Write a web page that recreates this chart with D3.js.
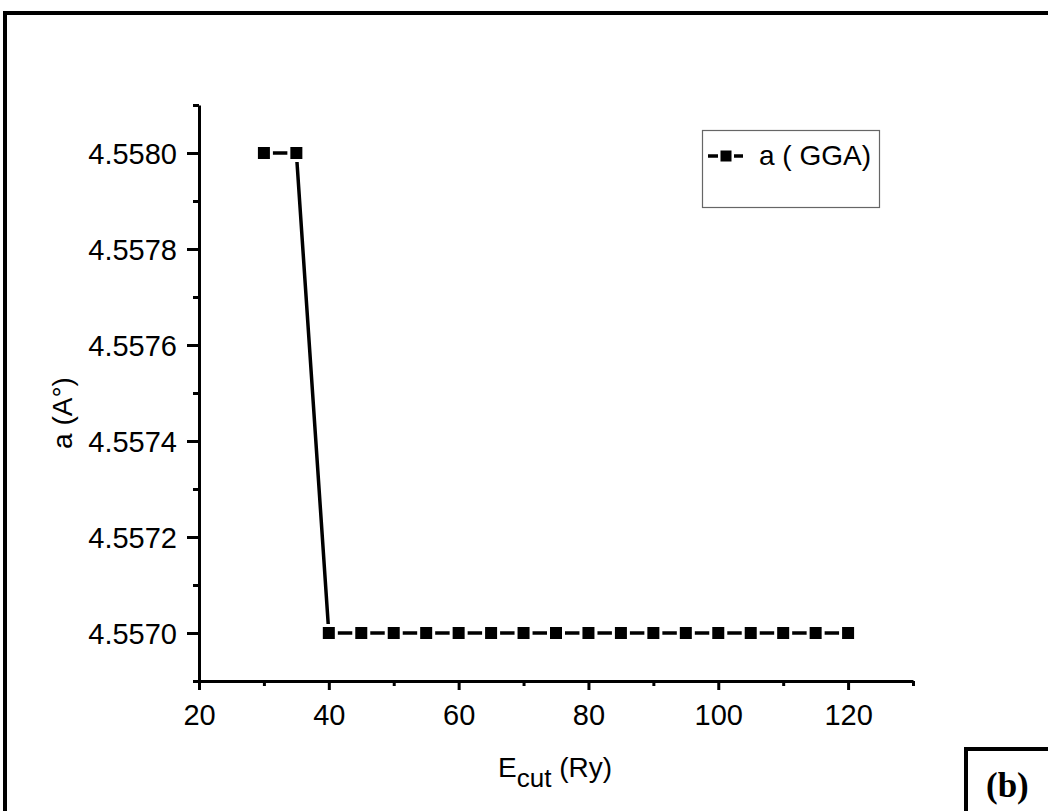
<!DOCTYPE html>
<html>
<head>
<meta charset="utf-8">
<script src="https://cdn.jsdelivr.net/npm/d3@7"></script>
<style>
  html, body { margin: 0; padding: 0; background: #fff; }
  svg { display: block; }
  text { font-family: "Liberation Sans", Arial, sans-serif; fill: #000; }
</style>
</head>
<body>
<script>
// Cutoff energy (Ry) and converged lattice parameter a (Å), GGA
const ecut = [30, 35, 40, 45, 50, 55, 60, 65, 70, 75, 80, 85, 90, 95, 100, 105, 110, 115, 120];
const latticeA = [4.5580, 4.5580, 4.5570, 4.5570, 4.5570, 4.5570, 4.5570, 4.5570, 4.5570, 4.5570,
                  4.5570, 4.5570, 4.5570, 4.5570, 4.5570, 4.5570, 4.5570, 4.5570, 4.5570];
const xTicks = [20, 40, 60, 80, 100, 120];
const xMinor = [30, 50, 70, 90, 110, 130];
const yTicks = [4.5570, 4.5572, 4.5574, 4.5576, 4.5578, 4.5580];
const yMinor = [4.5569, 4.5571, 4.5573, 4.5575, 4.5577, 4.5579, 4.5581];
const seriesName = "a ( GGA)";

const W = 1048, H = 811;
const svg = d3.select("body").append("svg").attr("width", W).attr("height", H);
const FONT = "'Liberation Sans', Arial, sans-serif";

// outer frame
svg.append("rect").attr("x", 5).attr("y", 13).attr("width", W + 20).attr("height", H + 20)
  .attr("fill", "none").attr("stroke", "#000").attr("stroke-width", 4);

const x = d3.scaleLinear().domain([20, 130]).range([199, 913]);
const y = d3.scaleLinear().domain([4.5569, 4.5581]).range([681, 105]);

const axisW = 3;

// Y axis
const gy = svg.append("g").attr("transform", `translate(${x(20)},0)`);
gy.call(d3.axisLeft(y).tickValues(yTicks).tickFormat(d3.format(".4f")).tickSize(12).tickSizeOuter(0));
gy.select(".domain").attr("stroke-width", axisW);
gy.selectAll(".tick line").attr("stroke-width", axisW);
gy.selectAll(".tick text").attr("x", -22).attr("dy", "0.36em")
  .style("font-size", "29px").style("font-family", FONT);
const gym = svg.append("g").attr("transform", `translate(${x(20)},0)`);
gym.call(d3.axisLeft(y).tickValues(yMinor).tickFormat("").tickSize(6).tickSizeOuter(0));
gym.select(".domain").remove();
gym.selectAll(".tick line").attr("stroke-width", axisW);

// X axis
const gx = svg.append("g").attr("transform", `translate(0,${y(4.5569)})`);
gx.call(d3.axisBottom(x).tickValues(xTicks).tickSize(9).tickSizeOuter(0));
gx.select(".domain").attr("stroke-width", axisW);
gx.selectAll(".tick line").attr("stroke-width", axisW);
gx.selectAll(".tick text").attr("y", 44).attr("dy", 0)
  .style("font-size", "29px").style("font-family", FONT);
const gxm = svg.append("g").attr("transform", `translate(0,${y(4.5569)})`);
gxm.call(d3.axisBottom(x).tickValues(xMinor).tickFormat("").tickSize(5).tickSizeOuter(0));
gxm.select(".domain").remove();
gxm.selectAll(".tick line").attr("stroke-width", axisW);

// axis titles
svg.append("text")
  .attr("transform", `translate(72,413) rotate(-90)`)
  .attr("text-anchor", "middle").style("font-size", "28px")
  .text("a (A°)");

const xl = svg.append("text").attr("x", 555).attr("y", 777)
  .attr("text-anchor", "middle").style("font-size", "28px");
xl.append("tspan").text("E");
xl.append("tspan").attr("dy", 10).style("font-size", "26px").text("cut");
xl.append("tspan").attr("dy", -10).text(" (Ry)");

// data line and markers (markers carry a white halo so the line stops short of them)
const pts = ecut.map((e, i) => [e, latticeA[i]]);
svg.append("path").datum(pts)
  .attr("fill", "none").attr("stroke", "#000").attr("stroke-width", 3.5)
  .attr("d", d3.line().x(d => x(d[0])).y(d => y(d[1])));
const ms = 12;
svg.selectAll("rect.pt").data(pts).enter().append("rect")
  .attr("class", "pt")
  .attr("x", d => x(d[0]) - ms / 2).attr("y", d => y(d[1]) - ms / 2)
  .attr("width", ms).attr("height", ms)
  .attr("fill", "#000").attr("stroke", "#fff").attr("stroke-width", 6)
  .style("paint-order", "stroke");

// legend
svg.append("rect").attr("x", 702.5).attr("y", 130.5).attr("width", 177).attr("height", 77)
  .attr("fill", "#fff").attr("stroke", "#666").attr("stroke-width", 1.2);
svg.append("line").attr("x1", 708).attr("x2", 743).attr("y1", 156).attr("y2", 156)
  .attr("stroke", "#000").attr("stroke-width", 3.5);
svg.append("rect").attr("x", 720.5).attr("y", 150.5).attr("width", 11).attr("height", 11)
  .attr("fill", "#000").attr("stroke", "#fff").attr("stroke-width", 5).style("paint-order", "stroke");
svg.append("text").attr("x", 759).attr("y", 165).style("font-size", "28px").text(seriesName);

// panel label
svg.append("rect").attr("x", 966).attr("y", 749).attr("width", 120).attr("height", 100)
  .attr("fill", "none").attr("stroke", "#000").attr("stroke-width", 4);
svg.append("text").attr("x", 986).attr("y", 797)
  .style("font-family", "'Liberation Serif', 'Times New Roman', serif")
  .style("font-size", "35px").attr("font-weight", "bold").text("(b)");
</script>
</body>
</html>
